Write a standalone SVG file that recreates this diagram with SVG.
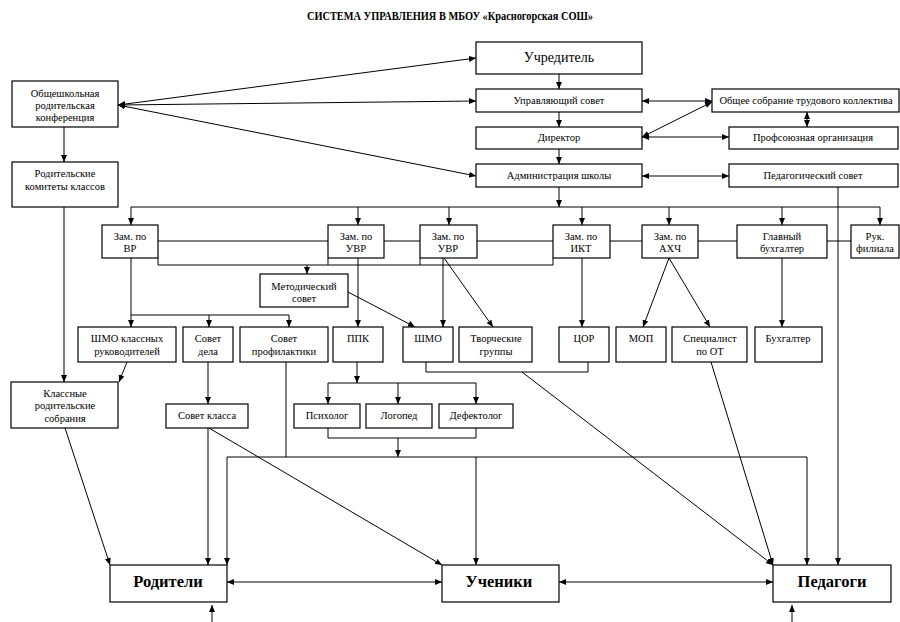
<svg xmlns="http://www.w3.org/2000/svg" width="900" height="622" viewBox="0 0 900 622" font-family="'Liberation Serif', 'Times New Roman', serif">
<style>
.b{fill:#fff;stroke:#000;stroke-width:1.2}
text{font-family:'Liberation Serif','Times New Roman',serif}
.t{font-size:10.5px;fill:#000;text-anchor:middle}
.big{font-size:14px}
.bold{font-size:16.5px;font-weight:bold}
.title{font-size:11.5px;font-weight:bold;text-anchor:middle;fill:#000}
#connectors line,#connectors polyline{stroke:#000;stroke-width:1;fill:none}
.a{marker-end:url(#ah)}
.aa{marker-end:url(#ah);marker-start:url(#as)}
</style>
<defs>
<marker id="ah" markerUnits="userSpaceOnUse" markerWidth="7" markerHeight="6" refX="7" refY="3" orient="auto"><path d="M0,0 L7,3 L0,6 z" fill="#000"/></marker>
<marker id="as" markerUnits="userSpaceOnUse" markerWidth="7" markerHeight="6" refX="7" refY="3" orient="auto-start-reverse"><path d="M0,0 L7,3 L0,6 z" fill="#000"/></marker>
</defs>
<rect width="900" height="622" fill="#fff"/>
<text class="title" x="450" y="20" textLength="286" lengthAdjust="spacingAndGlyphs">СИСТЕМА УПРАВЛЕНИЯ В МБОУ «Красногорская СОШ»</text>

<g id="connectors">
<line class="aa" x1="118" y1="105" x2="476" y2="58"/>
<line class="aa" x1="118" y1="105" x2="476" y2="101"/>
<line class="aa" x1="118" y1="105" x2="476" y2="176"/>
<line class="a" x1="64" y1="127" x2="64" y2="162"/>
<line class="a" x1="64" y1="207" x2="64" y2="382"/>
<line class="a" x1="559" y1="74" x2="559" y2="89"/>
<line class="a" x1="559" y1="112" x2="559" y2="127"/>
<line class="a" x1="559" y1="149" x2="559" y2="164"/>
<line class="aa" x1="642" y1="101" x2="712" y2="101"/>
<line class="aa" x1="642" y1="137" x2="712" y2="102"/>
<line class="aa" x1="642" y1="137" x2="729" y2="137"/>
<line class="aa" x1="807" y1="112" x2="807" y2="127"/>
<line class="aa" x1="642" y1="176" x2="729" y2="176"/>
<line class="a" x1="559" y1="187" x2="559" y2="207"/>
<line x1="131" y1="207" x2="880" y2="207"/>
<line class="a" x1="131" y1="207" x2="131" y2="225"/>
<line class="a" x1="358" y1="207" x2="358" y2="225"/>
<line class="a" x1="449" y1="207" x2="449" y2="225"/>
<line class="a" x1="582" y1="207" x2="582" y2="225"/>
<line class="a" x1="669" y1="207" x2="669" y2="225"/>
<line class="a" x1="782" y1="207" x2="782" y2="225"/>
<line class="a" x1="880" y1="207" x2="880" y2="225"/>
<line x1="158" y1="241" x2="328" y2="241"/>
<line x1="384" y1="241" x2="420" y2="241"/>
<line x1="477" y1="241" x2="553" y2="241"/>
<line x1="610" y1="241" x2="642" y2="241"/>
<line x1="698" y1="241" x2="737" y2="241"/>
<line x1="827" y1="241" x2="851" y2="241"/>
<polyline points="158,258 158,265 553,265 553,258"/>
<line x1="328" y1="258" x2="328" y2="265"/>
<line x1="420" y1="258" x2="420" y2="265"/>
<line class="a" x1="307" y1="265" x2="307" y2="274"/>
<line x1="131" y1="258" x2="131" y2="315"/>
<line x1="131" y1="315" x2="289" y2="315"/>
<line class="a" x1="131" y1="315" x2="131" y2="327"/>
<line class="a" x1="209" y1="315" x2="209" y2="327"/>
<line class="a" x1="289" y1="315" x2="289" y2="327"/>
<line class="a" x1="358" y1="258" x2="358" y2="327"/>
<line class="a" x1="443" y1="258" x2="443" y2="327"/>
<line class="a" x1="444" y1="258" x2="493" y2="327"/>
<line class="a" x1="348" y1="292" x2="415" y2="327"/>
<line class="a" x1="582" y1="258" x2="582" y2="327"/>
<line class="a" x1="669" y1="258" x2="643" y2="327"/>
<line class="a" x1="669" y1="258" x2="710" y2="327"/>
<line class="a" x1="782" y1="258" x2="782" y2="327"/>
<line class="a" x1="127" y1="362" x2="119" y2="382"/>
<line class="a" x1="208" y1="362" x2="208" y2="404"/>
<line x1="286" y1="362" x2="286" y2="457"/>
<line class="a" x1="357" y1="362" x2="357" y2="383"/>
<line x1="328" y1="383" x2="476" y2="383"/>
<line class="a" x1="328" y1="383" x2="328" y2="404"/>
<line class="a" x1="398" y1="383" x2="398" y2="404"/>
<line class="a" x1="476" y1="383" x2="476" y2="404"/>
<polyline points="328,428 328,438 476,438 476,428"/>
<line class="a" x1="398" y1="438" x2="398" y2="457"/>
<line x1="227" y1="457" x2="807" y2="457"/>
<line class="a" x1="227" y1="457" x2="227" y2="565"/>
<line class="a" x1="476" y1="457" x2="476" y2="565"/>
<line class="a" x1="807" y1="457" x2="807" y2="565"/>
<polyline points="426,362 426,372 588,372 588,362"/>
<line class="a" x1="522" y1="372" x2="773" y2="565"/>
<line class="a" x1="711" y1="362" x2="773" y2="565"/>
<line class="a" x1="838" y1="187" x2="838" y2="565"/>
<line class="a" x1="208" y1="428" x2="208" y2="565"/>
<line class="a" x1="209" y1="428" x2="442" y2="565"/>
<line class="a" x1="65" y1="428" x2="110" y2="565"/>
<line class="aa" x1="227" y1="582" x2="442" y2="582"/>
<line class="aa" x1="559" y1="582" x2="773" y2="582"/>
<line class="a" x1="212" y1="622" x2="212" y2="605"/>
<line class="a" x1="792" y1="622" x2="792" y2="605"/>
</g>

<g id="n-obsh"><rect class="b" x="12" y="81" width="106" height="46"/><text class="t" x="65" y="97">Общешкольная</text><text class="t" x="65" y="109">родительская</text><text class="t" x="65" y="121">конференция</text></g>
<g id="n-rodkom"><rect class="b" x="12" y="162" width="106" height="45"/><text class="t" x="65" y="177">Родительские</text><text class="t" x="65" y="190">комитеты классов</text></g>
<g id="n-uchr"><rect class="b" x="476" y="42" width="166" height="32"/><text class="t big" x="559" y="62">Учредитель</text></g>
<g id="n-upr"><rect class="b" x="476" y="89" width="166" height="23"/><text class="t" x="559" y="104">Управляющий совет</text></g>
<g id="n-dir"><rect class="b" x="476" y="127" width="166" height="22"/><text class="t" x="559" y="141">Директор</text></g>
<g id="n-adm"><rect class="b" x="476" y="164" width="166" height="23"/><text class="t" x="559" y="179">Администрация школы</text></g>
<g id="n-obsob"><rect class="b" x="712" y="89" width="187" height="23"/><text class="t" x="806" y="104">Общее собрание трудового коллектива</text></g>
<g id="n-prof"><rect class="b" x="729" y="127" width="169" height="22"/><text class="t" x="813" y="141">Профсоюзная организация</text></g>
<g id="n-pedsov"><rect class="b" x="729" y="164" width="169" height="23"/><text class="t" x="813" y="179">Педагогический совет</text></g>
<g id="n-vr"><rect class="b" x="102" y="225" width="56" height="33"/><text class="t" x="130" y="240">Зам. по</text><text class="t" x="130" y="252">ВР</text></g>
<g id="n-uvr1"><rect class="b" x="328" y="225" width="56" height="33"/><text class="t" x="356" y="240">Зам. по</text><text class="t" x="356" y="252">УВР</text></g>
<g id="n-uvr2"><rect class="b" x="420" y="225" width="57" height="33"/><text class="t" x="448" y="240">Зам. по</text><text class="t" x="448" y="252">УВР</text></g>
<g id="n-ikt"><rect class="b" x="553" y="225" width="57" height="33"/><text class="t" x="581" y="240">Зам. по</text><text class="t" x="581" y="252">ИКТ</text></g>
<g id="n-ahch"><rect class="b" x="642" y="225" width="56" height="33"/><text class="t" x="670" y="240">Зам. по</text><text class="t" x="670" y="252">АХЧ</text></g>
<g id="n-glbuh"><rect class="b" x="737" y="225" width="90" height="33"/><text class="t" x="782" y="240">Главный</text><text class="t" x="782" y="252">бухгалтер</text></g>
<g id="n-ruk"><rect class="b" x="851" y="225" width="48" height="33"/><text class="t" x="875" y="240">Рук.</text><text class="t" x="875" y="252">филиала</text></g>
<g id="n-met"><rect class="b" x="260" y="274" width="88" height="33"/><text class="t" x="304" y="290">Методический</text><text class="t" x="304" y="302">совет</text></g>
<g id="n-shmok"><rect class="b" x="78" y="327" width="98" height="35"/><text class="t" x="127" y="342">ШМО классных</text><text class="t" x="127" y="355">руководителей</text></g>
<g id="n-sovdel"><rect class="b" x="183" y="327" width="50" height="35"/><text class="t" x="208" y="342">Совет</text><text class="t" x="208" y="355">дела</text></g>
<g id="n-sovprof"><rect class="b" x="240" y="327" width="88" height="35"/><text class="t" x="284" y="342">Совет</text><text class="t" x="284" y="355">профилактики</text></g>
<g id="n-ppk"><rect class="b" x="333" y="327" width="50" height="35"/><text class="t" x="358" y="342">ППК</text></g>
<g id="n-shmo"><rect class="b" x="403" y="327" width="50" height="35"/><text class="t" x="428" y="342">ШМО</text></g>
<g id="n-tvor"><rect class="b" x="459" y="327" width="73" height="35"/><text class="t" x="496" y="342">Творческие</text><text class="t" x="496" y="355">группы</text></g>
<g id="n-cor"><rect class="b" x="559" y="327" width="50" height="35"/><text class="t" x="584" y="342">ЦОР</text></g>
<g id="n-mop"><rect class="b" x="616" y="327" width="50" height="35"/><text class="t" x="641" y="342">МОП</text></g>
<g id="n-spec"><rect class="b" x="672" y="327" width="75" height="35"/><text class="t" x="710" y="342">Специалист</text><text class="t" x="710" y="355">по ОТ</text></g>
<g id="n-buh"><rect class="b" x="755" y="327" width="67" height="35"/><text class="t" x="788" y="342">Бухгалтер</text></g>
<g id="n-klass"><rect class="b" x="11" y="382" width="107" height="46"/><text class="t" x="65" y="397">Классные</text><text class="t" x="65" y="409">родительские</text><text class="t" x="65" y="422">собрания</text></g>
<g id="n-sovkl"><rect class="b" x="166" y="404" width="82" height="24"/><text class="t" x="207" y="419">Совет класса</text></g>
<g id="n-psih"><rect class="b" x="294" y="404" width="66" height="24"/><text class="t" x="327" y="419">Психолог</text></g>
<g id="n-logo"><rect class="b" x="366" y="404" width="66" height="24"/><text class="t" x="399" y="419">Логопед</text></g>
<g id="n-def"><rect class="b" x="439" y="404" width="74" height="24"/><text class="t" x="476" y="419">Дефектолог</text></g>
<g id="n-rod"><rect class="b" x="110" y="565" width="117" height="37"/><text class="t bold" x="168" y="587">Родители</text></g>
<g id="n-uch"><rect class="b" x="442" y="565" width="117" height="37"/><text class="t bold" x="499" y="587">Ученики</text></g>
<g id="n-pedg"><rect class="b" x="773" y="565" width="118" height="37"/><text class="t bold" x="832" y="587">Педагоги</text></g>
</svg>
